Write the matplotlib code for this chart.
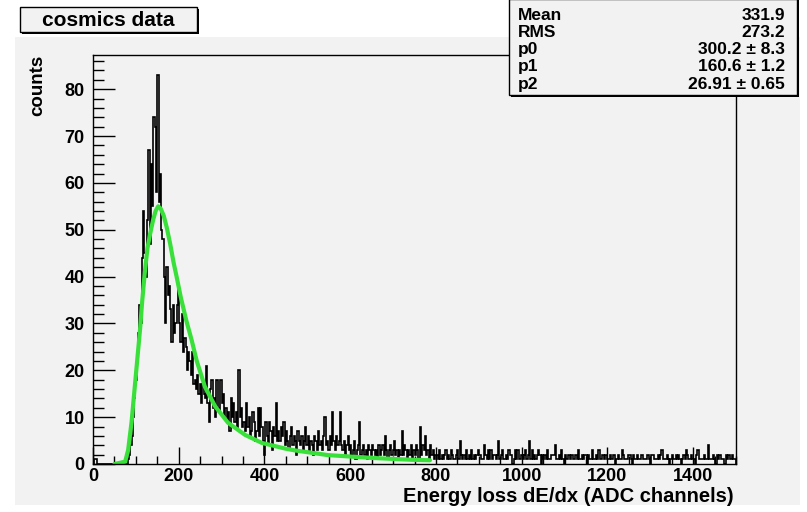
import matplotlib
matplotlib.use("Agg")
import matplotlib.pyplot as plt
from matplotlib.patches import Rectangle
import numpy as np

plt.rcParams['font.family'] = ['Liberation Sans', 'DejaVu Sans']
plt.rcParams['font.weight'] = 'bold'

# histogram: 3 ADC channels per bin, 0 - 1500
bin_width = 3
counts_0_300 = [
    0, 1, 1, 0, 0, 0, 0, 0, 0, 0, 0, 0, 0, 0, 0, 0, 0, 0, 0, 0,
    0, 0, 0, 0, 0, 0, 0, 1, 2, 4, 6, 10, 14, 18, 22, 28, 34, 30, 44, 54,
    45, 40, 52, 67, 47, 64, 55, 74, 72, 58, 83, 56, 62, 50, 48, 40, 30, 42, 36, 38,
    33, 26, 34, 28, 30, 34, 38, 30, 26, 32, 24, 27, 25, 20, 24, 22, 19, 24, 17, 18,
    16, 19, 15, 17, 13, 17, 15, 14, 21, 13, 9, 16, 18, 12, 14, 10, 18, 12, 11, 18,
]
counts_300_600 = [
    13, 15, 10, 12, 9, 11, 7, 14, 10, 13, 9, 11, 8, 20, 10, 12, 8, 9, 7, 13,
    8, 10, 6, 7, 11, 9, 5, 7, 12, 6, 12, 8, 5, 2, 9, 6, 4, 9, 7, 3,
    8, 6, 13, 5, 7, 5, 8, 6, 9, 4, 7, 5, 3, 6, 8, 4, 6, 5, 2, 7,
    5, 4, 6, 3, 5, 8, 4, 6, 3, 5, 4, 2, 6, 5, 3, 7, 4, 5, 3, 6,
    10, 4, 5, 3, 6, 4, 11, 5, 3, 6, 4, 5, 11, 4, 3, 5, 2, 4, 6, 3,
]
counts_600_900 = [
    4, 2, 3, 5, 1, 3, 4, 9, 2, 3, 4, 2, 3, 1, 4, 3, 2, 4, 3, 2,
    3, 1, 4, 2, 3, 4, 2, 6, 3, 1, 3, 4, 2, 3, 5, 2, 3, 1, 3, 2,
    7, 2, 4, 3, 1, 3, 2, 4, 1, 3, 2, 4, 3, 1, 8, 2, 4, 3, 6, 2,
    3, 1, 4, 2, 3, 1, 2, 2, 1, 3, 1, 2, 1, 2, 3, 1, 2, 1, 3, 2,
    1, 1, 2, 3, 1, 5, 2, 1, 2, 1, 3, 1, 2, 1, 3, 1, 2, 1, 2, 3,
]
counts_900_1200 = [
    2, 2, 1, 1, 4, 2, 1, 3, 1, 3, 1, 2, 2, 1, 2, 5, 1, 2, 3, 1,
    1, 2, 1, 3, 2, 2, 0, 1, 3, 1, 3, 1, 1, 2, 1, 2, 3, 1, 2, 5,
    1, 3, 1, 2, 1, 2, 3, 2, 0, 2, 1, 2, 1, 3, 1, 1, 2, 2, 2, 4,
    1, 1, 2, 1, 3, 1, 0, 2, 1, 2, 2, 1, 2, 1, 1, 2, 1, 3, 1, 1,
    2, 1, 2, 2, 0, 2, 1, 1, 3, 1, 1, 2, 1, 3, 1, 1, 2, 1, 2, 2,
]
counts_1200_1500 = [
    1, 1, 2, 1, 2, 2, 0, 1, 2, 1, 1, 3, 2, 1, 1, 1, 2, 2, 1, 0,
    2, 1, 1, 2, 1, 1, 2, 2, 1, 1, 1, 2, 1, 0, 2, 2, 1, 1, 1, 2,
    1, 2, 3, 1, 1, 1, 2, 1, 0, 1, 2, 1, 1, 2, 1, 2, 1, 0, 1, 2,
    1, 3, 2, 1, 1, 2, 1, 1, 0, 2, 3, 1, 1, 1, 1, 2, 1, 1, 4, 1,
    1, 1, 2, 1, 0, 2, 1, 2, 1, 1, 1, 0, 2, 1, 2, 1, 1, 2, 1, 1,
]

# landau fit curve
fit_x = [50, 75, 82, 90, 98, 105, 110, 115, 121, 127, 133, 140, 146, 152, 158,
         165, 172, 180, 188, 195, 205, 218, 230, 242, 261, 285, 315, 355, 394,
         448, 471, 548, 650, 744, 786]
fit_y = [0, 0.5, 3, 9, 17, 24, 29, 35, 41, 46, 49, 52, 54, 55, 54.5,
         53, 50.5, 47, 43, 40, 35.5, 30.5, 26.5, 22, 16.5, 12.3, 8.8, 6.2, 4.5,
         3.3, 2.9, 1.9, 1.3, 0.9, 0.8]

stats_names = ['Mean', 'RMS', 'p0', 'p1', 'p2']
stats_values = ['331.9', '273.2', '300.2 \u00b1 8.3', '160.6 \u00b1 1.2', '26.91 \u00b1 0.65']

counts = np.array(counts_0_300 + counts_300_600 + counts_600_900
                  + counts_900_1200 + counts_1200_1500)
edges = np.arange(len(counts) + 1) * bin_width

W, H = 807, 512
fig = plt.figure(figsize=(W / 100, H / 100), dpi=100, facecolor='white')
bg = '#f2f2f2'
fig.patches.append(Rectangle((15 / W, 1 - 505 / H), 785 / W, 468 / H,
                             transform=fig.transFigure, facecolor=bg,
                             edgecolor='none', zorder=-5))

ax = fig.add_axes([93 / W, 1 - 464 / H, 643 / W, 409 / H])
ax.set_facecolor(bg)
ax.stairs(counts, edges, color='black', linewidth=1.2)
ax.plot(fit_x, fit_y, color='#3ae03a', linewidth=3.0, solid_capstyle='round')

ax.set_xlim(0, 1500)
ax.set_ylim(0, 87.3)
ax.set_xticks(np.arange(0, 1401, 200))
ax.set_xticks(np.arange(0, 1501, 50), minor=True)
ax.set_yticks(np.arange(0, 81, 10))
ax.set_yticks(np.arange(0, 87, 2), minor=True)
ax.tick_params(axis='both', which='both', direction='in', top=False, right=False,
               labelsize=13, width=1)
ax.tick_params(axis='x', which='major', length=12, pad=3)
ax.tick_params(axis='x', which='minor', length=6)
ax.tick_params(axis='y', which='major', length=16, pad=6)
ax.tick_params(axis='y', which='minor', length=8)
for lab in ax.get_xticklabels() + ax.get_yticklabels():
    lab.set_fontweight('bold')
for sp in ax.spines.values():
    sp.set_linewidth(1.0)

fig.text(38 / W, 1 - 55 / H, 'counts', rotation=90, ha='center', va='top',
         fontsize=13.5, fontweight='bold')
fig.text(734 / W, 1 - 496 / H, 'Energy loss dE/dx (ADC channels)', ha='right',
         va='center', fontsize=14.5, fontweight='bold')

# title box
fig.patches.append(Rectangle((22 / W, 1 - 34 / H), 177 / W, 25 / H,
                             transform=fig.transFigure, facecolor='black',
                             edgecolor='none', zorder=2))
fig.patches.append(Rectangle((20 / W, 1 - 32 / H), 177 / W, 25 / H,
                             transform=fig.transFigure, facecolor=bg,
                             edgecolor='black', linewidth=1, zorder=3))
fig.text(108 / W, 1 - 20 / H, 'cosmics data', ha='center', va='center',
         fontsize=15, fontweight='bold', zorder=4)

# stats box
fig.patches.append(Rectangle((511 / W, 1 - 97 / H), 288 / W, 97 / H,
                             transform=fig.transFigure, facecolor='black',
                             edgecolor='none', zorder=2))
fig.patches.append(Rectangle((509 / W, 1 - 95 / H), 288 / W, 96 / H,
                             transform=fig.transFigure, facecolor=bg,
                             edgecolor='black', linewidth=1, zorder=3))
for i, (name, val) in enumerate(zip(stats_names, stats_values)):
    y = 1 - (15 + 17.3 * i) / H
    fig.text(518 / W, y, name, ha='left', va='center', fontsize=12.5,
             fontweight='bold', zorder=4)
    fig.text(785 / W, y, val, ha='right', va='center', fontsize=12.5,
             fontweight='bold', zorder=4)

fig.savefig('out.png', dpi=100, facecolor='white')
